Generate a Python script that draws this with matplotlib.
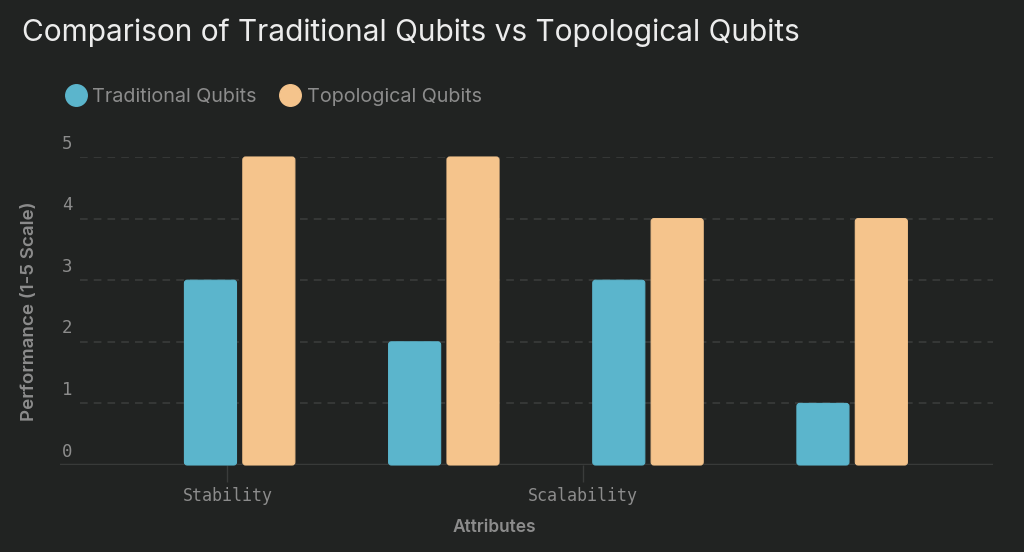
import numpy as np
import matplotlib.pyplot as plt
from matplotlib.patches import FancyBboxPatch
from matplotlib.lines import Line2D
import matplotlib.transforms as mtransforms

# data
series_names = ["Traditional Qubits", "Topological Qubits"]
traditional = [3, 2, 3, 1]
topological = [5, 5, 4, 4]
tick_labels = ["Stability", "Scalability"]
tick_slots = [-0.06, 1.68]  # where the chart put its two visible labels
y_ticks = [0, 1, 2, 3, 4, 5]

bg = "#212322"
blue = "#5bb5cc"
orange = "#f5c48c"
grey = "#8c8c8c"

plt.rcParams["font.family"] = ["Inter", "DejaVu Sans"]

fig = plt.figure(figsize=(10.24, 5.52), dpi=100, facecolor=bg)
ax = fig.add_axes([60 / 1024, 1 - 465 / 552, 933 / 1024, 308 / 552])
ax.set_facecolor(bg)

x = np.arange(len(traditional))
w = 0.255
off = 0.143
ax.set_xlim(-0.88, 3.69)
ax.set_ylim(0, 5)

# px per data unit: x 204, y 61.6
asp = (933 / 4.57) / (308 / 5)
for vals, col, sh in [(traditional, blue, -off), (topological, orange, off)]:
    for xi, v in zip(x, vals):
        p = FancyBboxPatch((xi + sh - w / 2, 0), w, v,
                           boxstyle="round,pad=0,rounding_size=0.014",
                           mutation_aspect=asp, fc=col, ec=col, lw=0.8,
                           zorder=3, clip_on=False)
        ax.add_patch(p)

# grid
trans = mtransforms.blended_transform_factory(ax.transAxes, ax.transData)
for t in y_ticks[1:]:
    ax.plot([0.021, 1.0], [t, t], transform=trans, color="#3c3e3d",
            lw=1.1, ls=(0, (5, 4)), zorder=1)
for t in y_ticks:
    ax.text(0.002, t + 0.07, str(t), transform=trans, color=grey,
            family="DejaVu Sans Mono", fontsize=12.5, va="bottom", ha="left")

ax.axhline(0, color="#383a39", lw=2.5, zorder=2)
for s in ax.spines.values():
    s.set_visible(False)
ax.set_yticks([])
ax.set_xticks(tick_slots)
ax.set_xticklabels(tick_labels, family="DejaVu Sans Mono", fontsize=12, color=grey)
ax.tick_params(axis="x", length=12, width=1, color="#3a3c3b", pad=4)

fig.text(30 / 1024, 1 - 311 / 552, "Performance (1-5 Scale)", rotation=90,
         color=grey, fontsize=13.5, fontweight="semibold", va="center", ha="center")
fig.text(494 / 1024, 1 - 527 / 552, "Attributes", color=grey, fontsize=12.5,
         fontweight="semibold", va="center", ha="center")

fig.text(22 / 1024, 1 - 33 / 552,
         "Comparison of Traditional Qubits vs Topological Qubits",
         color="#ececec", fontsize=21.5, va="center", ha="left")

handles = [Line2D([], [], marker="o", ls="", ms=15.5, mfc=blue, mec=blue),
           Line2D([], [], marker="o", ls="", ms=15.5, mfc=orange, mec=orange)]
leg = fig.legend(handles, series_names, loc="center left",
                 bbox_to_anchor=(44 / 1024, 1 - 97 / 552), ncol=2, frameon=False,
                 fontsize=14.2, handletextpad=0.15, columnspacing=1.0,
                 handlelength=1.4)
for t in leg.get_texts():
    t.set_color(grey)

fig.savefig("out.png", facecolor=bg)
